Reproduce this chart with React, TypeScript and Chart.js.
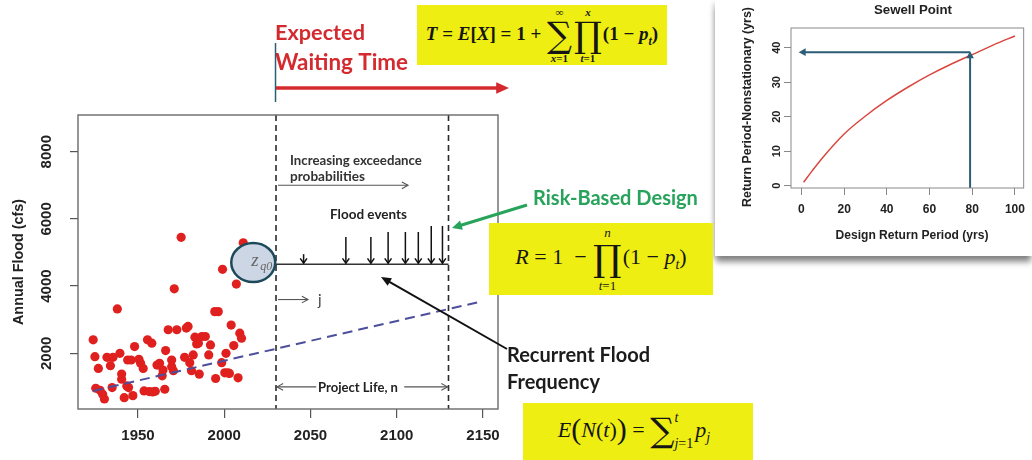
import React, { useEffect, useRef } from 'react';
import { Chart, registerables } from 'chart.js';

Chart.register(...registerables);

// Annual peak flood record
const floodYears = [
  1924, 1925, 1927, 1925.5, 1928, 1929.5, 1930.5, 1932, 1935.5, 1934,
  1938, 1939.5, 1935, 1940.5, 1940.5, 1942, 1943.5, 1944.5, 1947, 1944,
  1946, 1948, 1950.5, 1951.5, 1953, 1955.5, 1958, 1953.5, 1956.5, 1958.5,
  1960, 1961, 1962.5, 1964, 1964.5, 1965.5, 1966, 1967.5, 1969.5, 1969.5,
  1970.5, 1971, 1972.5, 1975, 1977, 1978, 1979, 1980, 1981, 1982,
  1983, 1984, 1985, 1985.5, 1987, 1989, 1991, 1992, 1994.5, 1995,
  1996.5, 1998.5, 1999, 2000.3, 2001, 2002, 2003, 2004, 2005.5, 2007,
  2008, 2009, 2010, 2011,
];
const floodValues = [
  2400, 1900, 1550, 960, 900, 780, 640, 1880, 1880, 1630,
  3320, 2000, 980, 1380, 1230, 680, 1030, 980, 740, 1800,
  1800, 2200, 1820, 1700, 1550, 2400, 2300, 880, 860, 850,
  870, 1650, 1700, 1330, 1500, 930, 2080, 2700, 1800, 1600,
  1480, 3920, 2700, 5450, 1880, 2750, 2800, 1720, 1480, 1950,
  2480, 2280, 2300, 1380, 2500, 2500, 1950, 2250, 3240, 1250,
  3240, 1720, 4500, 1420, 2000, 1420, 1400, 2840, 2230, 4060,
  1270, 2600, 2450, 5290,
];

// Fitted linear trend (end points)
const trendYears = [1924, 2148];
const trendValues = [880, 3530];

const xTicks = [1950, 2000, 2050, 2100, 2150];
const yTicks = [2000, 4000, 6000, 8000];

// Project life window and design level
const projectStart = 2030;
const projectEnd = 2130;
const designLevel = 4650;
const eventYears = [2046, 2070.5, 2085, 2095, 2105, 2112.5, 2120, 2126.5];
const eventPeaks = [4950, 5460, 5460, 5610, 5610, 5610, 5790, 5790];
const zq0Year = 2016.8;
const zq0Value = 4700;

// Sewell Point: design vs nonstationary return period
const designReturn = [1, 5, 10, 20, 30, 40, 50, 60, 70, 80, 90, 100];
const nonstatReturn = [1, 4.3, 8.2, 15, 20.2, 24.7, 28.6, 32.1, 35.2, 38, 40.8, 43.4];
const insetXTicks = [0, 20, 40, 60, 80, 100];
const insetYTicks = [0, 10, 20, 30, 40];
const chosenDesign = 79;
const chosenNonstat = 38.7;

const SANS = '"Liberation Sans", Arial, sans-serif';
const CAL = 'Lato, "Open Sans", sans-serif';
const SERIF = '"Liberation Serif", "DejaVu Serif", serif';
const YELLOW = '#eeee12';

function arrow(
  ctx: CanvasRenderingContext2D,
  x1: number, y1: number, x2: number, y2: number,
  color: string, lw: number, head: number, filled: boolean, spread = 0.45,
) {
  const ang = Math.atan2(y2 - y1, x2 - x1);
  ctx.save();
  ctx.strokeStyle = color;
  ctx.fillStyle = color;
  ctx.lineWidth = lw;
  ctx.setLineDash([]);
  ctx.beginPath();
  ctx.moveTo(x1, y1);
  if (filled) ctx.lineTo(x2 - Math.cos(ang) * head * 0.7, y2 - Math.sin(ang) * head * 0.7);
  else ctx.lineTo(x2, y2);
  ctx.stroke();
  const ax = x2 - Math.cos(ang - spread) * head;
  const ay = y2 - Math.sin(ang - spread) * head;
  const bx = x2 - Math.cos(ang + spread) * head;
  const by = y2 - Math.sin(ang + spread) * head;
  ctx.beginPath();
  if (filled) {
    ctx.moveTo(x2, y2);
    ctx.lineTo(ax, ay);
    ctx.lineTo(bx, by);
    ctx.closePath();
    ctx.fill();
  } else {
    ctx.moveTo(ax, ay);
    ctx.lineTo(x2, y2);
    ctx.lineTo(bx, by);
    ctx.stroke();
  }
  ctx.restore();
}

// Draw text scaled so it spans a given width
function fitText(
  ctx: CanvasRenderingContext2D, text: string, x: number, y: number,
  width: number, weight: string, family: string, color: string,
  align: CanvasTextAlign = 'left', baseline: CanvasTextBaseline = 'alphabetic',
) {
  ctx.font = `${weight} 20px ${family}`;
  const w = ctx.measureText(text).width;
  const size = (20 * width) / w;
  ctx.font = `${weight} ${size.toFixed(2)}px ${family}`;
  ctx.fillStyle = color;
  ctx.textAlign = align;
  ctx.textBaseline = baseline;
  ctx.fillText(text, x, y);
}

const mainOverlay = {
  id: 'mainOverlay',
  afterDatasetsDraw(chart: any) {
    const { ctx, chartArea: a } = chart;
    const xs = chart.scales.x;
    const ys = chart.scales.y;
    const px = (v: number) => xs.getPixelForValue(v);
    const py = (v: number) => ys.getPixelForValue(v);
    ctx.save();

    // project life boundaries
    ctx.strokeStyle = '#2b2b2b';
    ctx.lineWidth = 1.6;
    ctx.setLineDash([6, 4]);
    for (const yr of [projectStart, projectEnd]) {
      ctx.beginPath();
      ctx.moveTo(px(yr), a.top);
      ctx.lineTo(px(yr), a.bottom);
      ctx.stroke();
    }
    ctx.setLineDash([]);

    // flood events exceeding the design level
    eventYears.forEach((yr, i) => {
      arrow(ctx, px(yr), py(eventPeaks[i]), px(yr), py(designLevel) - 1, '#111', 1.5, 6, false, 0.6);
    });

    // z_q0 marker
    ctx.beginPath();
    ctx.ellipse(px(zq0Year), py(zq0Value), 22, 19.5, 0, 0, Math.PI * 2);
    ctx.fillStyle = '#cdd6e4';
    ctx.fill();
    ctx.lineWidth = 2.5;
    ctx.strokeStyle = '#1d4a5a';
    ctx.stroke();
    ctx.fillStyle = '#666';
    ctx.textBaseline = 'alphabetic';
    ctx.textAlign = 'left';
    ctx.font = `italic 19px ${SERIF}`;
    ctx.fillText('z', px(zq0Year) - 2, py(zq0Value) + 3);
    ctx.font = `italic 12px ${SERIF}`;
    ctx.fillText('q0', px(zq0Year) + 7, py(zq0Value) + 7);

    // increasing exceedance probabilities
    fitText(ctx, 'Increasing exceedance', 290, 165, 132, 'bold', CAL, '#333');
    fitText(ctx, 'probabilities', 290, 181, 75, 'bold', CAL, '#333');
    arrow(ctx, px(projectStart) + 2, py(7000), 408, py(7000), '#555', 1.1, 7, false, 0.5);

    fitText(ctx, 'Flood events', 330, 219, 77, 'bold', CAL, '#222');

    // j index
    arrow(ctx, px(projectStart) + 2, py(3600), 308, py(3600), '#555', 1.1, 7, false, 0.5);
    ctx.font = `15px ${CAL}`;
    ctx.fillStyle = '#444';
    ctx.textAlign = 'left';
    ctx.fillText('j', 318, py(3600) + 5);

    // project life span
    const lifeY = py(1000);
    const midX = (px(projectStart) + px(projectEnd)) / 2;
    arrow(ctx, midX - 46, lifeY, px(projectStart) + 1, lifeY, '#555', 1.1, 7, false, 0.5);
    arrow(ctx, midX + 42, lifeY, px(projectEnd) - 1, lifeY, '#555', 1.1, 7, false, 0.5);
    fitText(ctx, 'Project Life, n', 318, lifeY + 5, 80, 'bold', CAL, '#222');

    // plot frame
    ctx.strokeStyle = '#6a6a6a';
    ctx.lineWidth = 1.4;
    ctx.strokeRect(a.left, a.top, a.right - a.left, a.bottom - a.top);
    ctx.restore();
  },
  afterDraw(chart: any) {
    const { ctx, chartArea: a } = chart;
    const xs = chart.scales.x;
    const ys = chart.scales.y;
    const px = (v: number) => xs.getPixelForValue(v);
    const py = (v: number) => ys.getPixelForValue(v);
    ctx.save();

    // rotated y tick labels
    ctx.fillStyle = '#222';
    ctx.font = `bold 15px ${SANS}`;
    ctx.textAlign = 'center';
    ctx.textBaseline = 'middle';
    for (const v of yTicks) {
      ctx.save();
      ctx.translate(47, py(v));
      ctx.rotate(-Math.PI / 2);
      ctx.fillText(String(v), 0, 0);
      ctx.restore();
    }
    ctx.save();
    ctx.translate(19, (a.top + a.bottom) / 2);
    ctx.rotate(-Math.PI / 2);
    fitText(ctx, 'Annual Flood (cfs)', 0, 0, 126, 'bold', SANS, '#222', 'center', 'middle');
    ctx.restore();

    // expected waiting time
    fitText(ctx, 'Expected', 275, 40, 90, 'bold', CAL, '#d42a2f');
    fitText(ctx, 'Waiting Time', 275, 70, 133, 'bold', CAL, '#d42a2f');
    ctx.strokeStyle = '#2b5f73';
    ctx.lineWidth = 1.5;
    ctx.beginPath();
    ctx.moveTo(px(projectStart) - 0.5, 43);
    ctx.lineTo(px(projectStart) - 0.5, 102);
    ctx.stroke();
    arrow(ctx, px(projectStart), 88, 509, 88, '#d42a2f', 3.5, 14, true, 0.42);

    // risk-based design
    fitText(ctx, 'Risk-Based Design', 533, 205, 165, 'bold', CAL, '#27a35b');
    arrow(ctx, 527, 205, 452, 228, '#27a35b', 3, 11, true, 0.45);

    // recurrent flood frequency
    fitText(ctx, 'Recurrent Flood', 507, 362, 143, 'bold', CAL, '#1c1c1c');
    fitText(ctx, 'Frequency', 507, 389, 93, 'bold', CAL, '#1c1c1c');
    arrow(ctx, 507, 349, 381, 277, '#111', 2, 11, true, 0.4);
    ctx.restore();
  },
};

const insetOverlay = {
  id: 'insetOverlay',
  afterDraw(chart: any) {
    const { ctx, chartArea: a } = chart;
    const xs = chart.scales.x;
    const ys = chart.scales.y;
    const px = (v: number) => xs.getPixelForValue(v);
    const py = (v: number) => ys.getPixelForValue(v);
    ctx.save();

    // read-off arrows
    const teal = '#2b5d76';
    arrow(ctx, px(chosenDesign), a.bottom, px(chosenDesign), py(chosenNonstat) - 1, teal, 2, 8, true, 0.5);
    arrow(ctx, px(chosenDesign), py(chosenNonstat), px(-1.3), py(chosenNonstat), teal, 2, 8, true, 0.5);

    ctx.strokeStyle = '#8a8a8a';
    ctx.lineWidth = 1;
    ctx.strokeRect(a.left, a.top, a.right - a.left, a.bottom - a.top);

    ctx.fillStyle = '#222';
    ctx.font = `bold 11px ${SANS}`;
    ctx.textAlign = 'center';
    ctx.textBaseline = 'middle';
    for (const v of insetYTicks) {
      ctx.save();
      ctx.translate(62, py(v));
      ctx.rotate(-Math.PI / 2);
      ctx.fillText(String(v), 0, 0);
      ctx.restore();
    }
    fitText(ctx, 'Sewell Point', 198, 10, 78, 'bold', SANS, '#222', 'center', 'middle');
    fitText(ctx, 'Design Return Period (yrs)', 197, 236, 153, 'bold', SANS, '#222', 'center', 'middle');
    ctx.save();
    ctx.translate(33, 107);
    ctx.rotate(-Math.PI / 2);
    fitText(ctx, 'Return Period-Nonstationary (yrs)', 0, 0, 200, 'bold', SANS, '#222', 'center', 'middle');
    ctx.restore();
    ctx.restore();
  },
};

// Large operator with stacked limits
function BigOp({ sym, sup, sub, size, limSize, gap }: any) {
  return (
    <span
      style={{
        display: 'inline-flex',
        flexDirection: 'column',
        alignItems: 'center',
        verticalAlign: 'middle',
        margin: '0 1px',
      }}
    >
      <span style={{ fontSize: limSize, lineHeight: `${limSize}px`, marginBottom: gap }}>{sup}</span>
      <span
        style={{
          fontSize: size,
          lineHeight: `${size}px`,
          height: size,
          fontFamily: '"DejaVu Serif", serif',
          fontWeight: 'normal',
          display: 'block',
        }}
      >
        {sym}
      </span>
      <span style={{ fontSize: limSize, lineHeight: `${limSize}px`, marginTop: gap }}>{sub}</span>
    </span>
  );
}

const boxBase: React.CSSProperties = {
  position: 'absolute',
  background: YELLOW,
  display: 'flex',
  alignItems: 'center',
  justifyContent: 'center',
  fontFamily: SERIF,
  color: '#151515',
  whiteSpace: 'nowrap',
};

const tickLabel = (v: any) => String(v);

export default function App() {
  const mainRef = useRef<HTMLCanvasElement>(null);
  const insetRef = useRef<HTMLCanvasElement>(null);

  useEffect(() => {
    const main = new Chart(mainRef.current as HTMLCanvasElement, {
      type: 'scatter',
      data: {
        datasets: [
          {
            type: 'line',
            data: trendYears.map((x, i) => ({ x, y: trendValues[i] })),
            borderColor: '#4d4f9c',
            borderWidth: 2,
            borderDash: [10, 6],
            pointRadius: 0,
            fill: false,
            order: 0,
          },
          {
            type: 'line',
            data: [
              { x: projectStart, y: designLevel },
              { x: projectEnd, y: designLevel },
            ],
            borderColor: '#333',
            borderWidth: 1.5,
            pointRadius: 0,
            fill: false,
            order: 0,
          },
          {
            type: 'scatter',
            data: floodYears.map((x, i) => ({ x, y: floodValues[i] })),
            backgroundColor: '#e0201e',
            borderWidth: 0,
            pointRadius: 4.6,
            order: 1,
          },
        ] as any,
      },
      options: {
        animation: false,
        responsive: false,
        events: [],
        layout: { padding: { left: 0, top: 115, right: 534, bottom: 0 } },
        plugins: { legend: { display: false }, tooltip: { enabled: false } },
        scales: {
          x: {
            type: 'linear',
            min: 1915.2,
            max: 2158.7,
            afterBuildTicks: (s: any) => {
              s.ticks = xTicks.map((value) => ({ value }));
            },
            afterFit: (s: any) => {
              s.height = 51;
            },
            grid: { drawOnChartArea: false, drawTicks: true, tickLength: 9, color: '#555', lineWidth: 1.2 },
            border: { display: false },
            ticks: {
              callback: tickLabel,
              font: { family: SANS, weight: 'bold', size: 15 },
              color: '#222',
              padding: 9,
              maxRotation: 0,
              autoSkip: false,
            },
          },
          y: {
            type: 'linear',
            min: 342,
            max: 9092,
            afterBuildTicks: (s: any) => {
              s.ticks = yTicks.map((value) => ({ value }));
            },
            afterFit: (s: any) => {
              s.width = 78;
            },
            grid: { drawOnChartArea: false, drawTicks: true, tickLength: 8, color: '#555', lineWidth: 1.2 },
            border: { display: false },
            ticks: { display: false },
          },
        },
      } as any,
      plugins: [mainOverlay],
    });

    const inset = new Chart(insetRef.current as HTMLCanvasElement, {
      type: 'line',
      data: {
        datasets: [
          {
            data: designReturn.map((x, i) => ({ x, y: nonstatReturn[i] })),
            borderColor: '#d9473f',
            borderWidth: 1.5,
            pointRadius: 0,
            cubicInterpolationMode: 'monotone',
            fill: false,
          },
        ] as any,
      },
      options: {
        animation: false,
        responsive: false,
        events: [],
        layout: { padding: { left: 0, top: 28, right: 2, bottom: 0 } },
        plugins: { legend: { display: false }, tooltip: { enabled: false } },
        scales: {
          x: {
            type: 'linear',
            min: -4.9,
            max: 104.1,
            afterBuildTicks: (s: any) => {
              s.ticks = insetXTicks.map((value) => ({ value }));
            },
            afterFit: (s: any) => {
              s.height = 68;
            },
            grid: { drawOnChartArea: false, drawTicks: true, tickLength: 7, color: '#888', lineWidth: 1 },
            border: { display: false },
            ticks: {
              callback: tickLabel,
              font: { family: SANS, weight: 'bold', size: 12 },
              color: '#222',
              padding: 7,
              maxRotation: 0,
              autoSkip: false,
            },
          },
          y: {
            type: 'linear',
            min: -0.66,
            max: 45.7,
            afterBuildTicks: (s: any) => {
              s.ticks = insetYTicks.map((value) => ({ value }));
            },
            afterFit: (s: any) => {
              s.width = 76;
            },
            grid: { drawOnChartArea: false, drawTicks: true, tickLength: 7, color: '#888', lineWidth: 1 },
            border: { display: false },
            ticks: { display: false },
          },
        },
      } as any,
      plugins: [insetOverlay],
    });

    return () => {
      main.destroy();
      inset.destroy();
    };
  }, []);

  return (
    <div
      style={{
        position: 'fixed',
        left: 0,
        top: 0,
        width: 1032,
        height: 460,
        background: '#fff',
        overflow: 'hidden',
      }}
    >
      <canvas ref={mainRef} width={1032} height={460} style={{ position: 'absolute', left: 0, top: 0 }} />

      {/* Sewell Point card */}
      <div
        style={{
          position: 'absolute',
          left: 715,
          top: 0,
          width: 317,
          height: 256,
          background: '#fff',
          boxShadow: '0 7px 6px -1px rgba(0,0,0,0.45), -3px 2px 4px rgba(0,0,0,0.10)',
        }}
      >
        <canvas ref={insetRef} width={317} height={256} style={{ position: 'absolute', left: 0, top: 0 }} />
      </div>

      {/* Expected waiting time */}
      <div style={{ ...boxBase, left: 417, top: 5, width: 250, height: 60, fontWeight: 'bold', fontSize: 19 }}>
        <span>
          <i>T</i> = <i>E</i>[<i>X</i>] = 1 +{' '}
          <BigOp sym="∑" sup="∞" sub={<><i>x</i>=1</>} size={35} limSize={11} gap={0} />
          <BigOp sym="∏" sup={<i>x</i>} sub={<><i>t</i>=1</>} size={35} limSize={11} gap={0} />
          (1 − <i>p</i>
          <sub style={{ fontSize: 12 }}><i>t</i></sub>)
        </span>
      </div>

      {/* Risk */}
      <div style={{ ...boxBase, left: 489, top: 223, width: 224, height: 72, fontSize: 22 }}>
        <span>
          <i>R</i> = 1 &nbsp;−{' '}
          <BigOp sym="∏" sup={<i>n</i>} sub={<><i>t</i>=1</>} size={36} limSize={13} gap={2} />
          (1 − <i>p</i>
          <sub style={{ fontSize: 14 }}><i>t</i></sub>)
        </span>
      </div>

      {/* Expected number of floods */}
      <div style={{ ...boxBase, left: 523, top: 403, width: 230, height: 60, fontSize: 22 }}>
        <span style={{ marginTop: -4, marginLeft: -8 }}>
          <i>E</i>
          <span style={{ fontSize: 30, verticalAlign: '-2px' }}>(</span>
          <i>N</i>(<i>t</i>)
          <span style={{ fontSize: 30, verticalAlign: '-2px' }}>)</span> ={' '}
          <span style={{ fontFamily: '"DejaVu Serif", serif', fontSize: 34, verticalAlign: '-5px' }}>∑</span>
          <span style={{ display: 'inline-flex', flexDirection: 'column', verticalAlign: 'middle', fontSize: 14, lineHeight: '16px', marginRight: 2 }}>
            <i>t</i>
            <span style={{ marginTop: 10 }}>
              <i>j</i>=1
            </span>
          </span>
          <i>p</i>
          <sub style={{ fontSize: 14 }}><i>j</i></sub>
        </span>
      </div>
    </div>
  );
}
